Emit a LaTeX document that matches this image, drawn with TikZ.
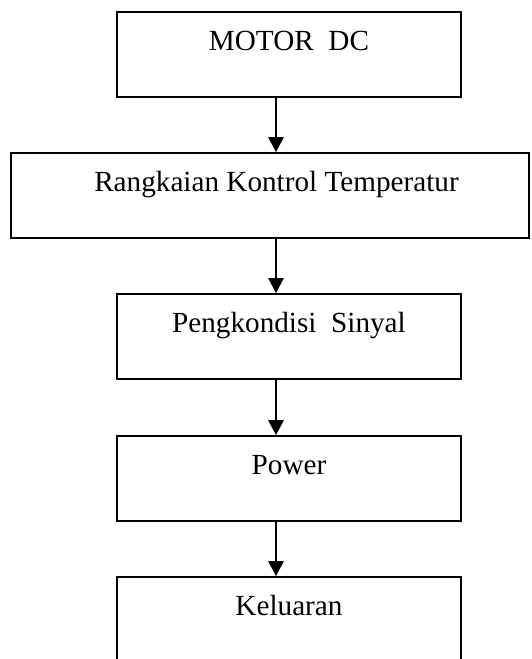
\documentclass[tikz,border=0pt]{standalone}
\usepackage{fontspec}
\setmainfont{Liberation Serif}
\usepackage{tikz}
\usetikzlibrary{arrows.meta, positioning, calc}

\begin{document}
\begin{tikzpicture}[x=0.5pt, y=-0.5pt,
  blok/.style={draw, line width=0.8pt, inner sep=0pt, minimum width=172pt,
    text height=19pt, text depth=23.5pt, font=\fontsize{14.6}{17}\selectfont},
  panah/.style={line width=1.3pt, -{Triangle[length=7.5pt, width=7.5pt]}}]
  \useasboundingbox (0,0) rectangle (531,659);

  % Blok diagram
  \node[blok] (motor) at (289,54.5) {MOTOR\ \ DC};
  \node[blok, minimum width=259pt] (kontrol) at (270,195.5) {\hspace*{6.5pt}Rangkaian Kontrol Temperatur};
  \node[blok] (sinyal) at (289,336.5) {Pengkondisi\ \ Sinyal};
  \node[blok] (power) at (289,478.5) {Power};
  \node[blok] (keluaran) at (289,619.5) {Keluaran};

  % Panah antar blok
  \coordinate (sumbu) at (276,0);
  \foreach \a/\b in {motor/kontrol, kontrol/sinyal, sinyal/power, power/keluaran} {
    \draw[panah] (\a.south -| sumbu) -- (\b.north -| sumbu);
  }
\end{tikzpicture}
\end{document}
